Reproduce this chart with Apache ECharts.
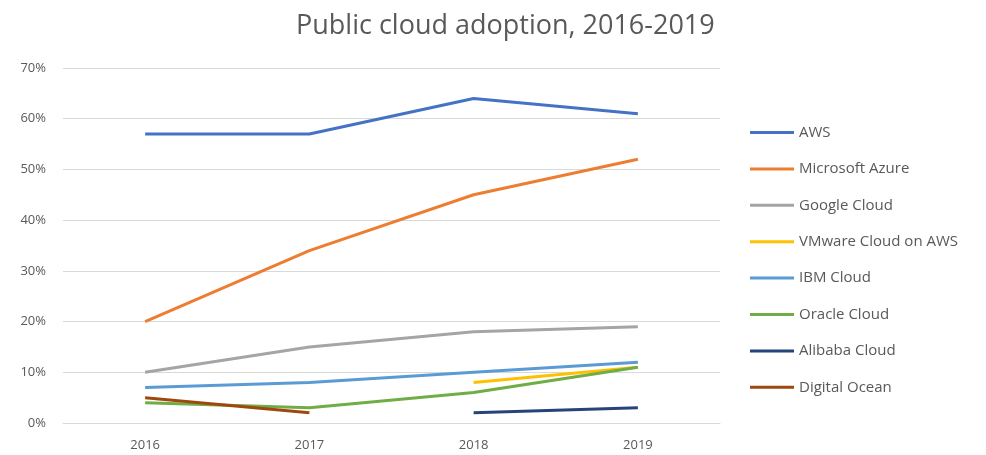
<!DOCTYPE html>
<html>
<head>
<meta charset="utf-8">
<script src="https://cdn.jsdelivr.net/npm/echarts@6/dist/echarts.min.js"></script>
<style>
  html, body { margin: 0; padding: 0; background: #fff; }
  #chart { width: 986px; height: 455px; }
</style>
</head>
<body>
<div id="chart"></div>
<script>
'use strict'

const years = ['2016', '2017', '2018', '2019']
const aws = [57, 57, 64, 61]
const azure = [20, 34, 45, 52]
const google = [10, 15, 18, 19]
const vmware = [null, null, 8, 11]
const ibm = [7, 8, 10, 12]
const oracle = [4, 3, 6, 11]
const alibaba = [null, null, 2, 3]
const digitalOcean = [5, 2, null, null]

const seriesDefs = [
  { name: 'AWS', data: aws, color: '#4472C4' },
  { name: 'Microsoft Azure', data: azure, color: '#ED7D31' },
  { name: 'Google Cloud', data: google, color: '#A5A5A5' },
  { name: 'VMware Cloud on AWS', data: vmware, color: '#FFC000' },
  { name: 'IBM Cloud', data: ibm, color: '#5B9BD5' },
  { name: 'Oracle Cloud', data: oracle, color: '#70AD47' },
  { name: 'Alibaba Cloud', data: alibaba, color: '#264478' },
  { name: 'Digital Ocean', data: digitalOcean, color: '#9E480E' }
]

const FONT = 'Open Sans'
const chart = echarts.init(document.getElementById('chart'))

const option = {
  animation: false,
  title: {
    text: 'Public cloud adoption, 2016-2019',
    left: 291,
    top: 8,
    textStyle: { fontFamily: FONT, fontSize: 27, fontWeight: 'normal', color: '#595959' }
  },
  legend: {
    orient: 'vertical',
    left: 745,
    top: 120,
    icon: 'rect',
    itemWidth: 44,
    itemHeight: 3,
    itemGap: 21.4,
    textStyle: { fontFamily: FONT, fontSize: 15, color: '#595959' },
    data: seriesDefs.map(s => s.name)
  },
  grid: { left: 63, right: 266, top: 68, bottom: 32, containLabel: false },
  xAxis: {
    type: 'category',
    data: years,
    boundaryGap: true,
    axisLine: { show: true, lineStyle: { color: '#d9d9d9' } },
    axisTick: { show: false },
    axisLabel: { fontFamily: FONT, fontSize: 13, color: '#595959', margin: 16 }
  },
  yAxis: {
    type: 'value',
    min: 0,
    max: 70,
    interval: 10,
    axisLine: { show: false },
    axisTick: { show: false },
    splitLine: { lineStyle: { color: '#d9d9d9' } },
    axisLabel: { fontFamily: FONT, fontSize: 13, color: '#595959', margin: 17, formatter: '{value}%' }
  },
  series: seriesDefs.map(s => ({
    name: s.name,
    type: 'line',
    data: s.data,
    symbol: 'none',
    connectNulls: false,
    color: s.color,
    lineStyle: { width: 3, color: s.color }
  }))
}

chart.setOption(option)
</script>
</body>
</html>
